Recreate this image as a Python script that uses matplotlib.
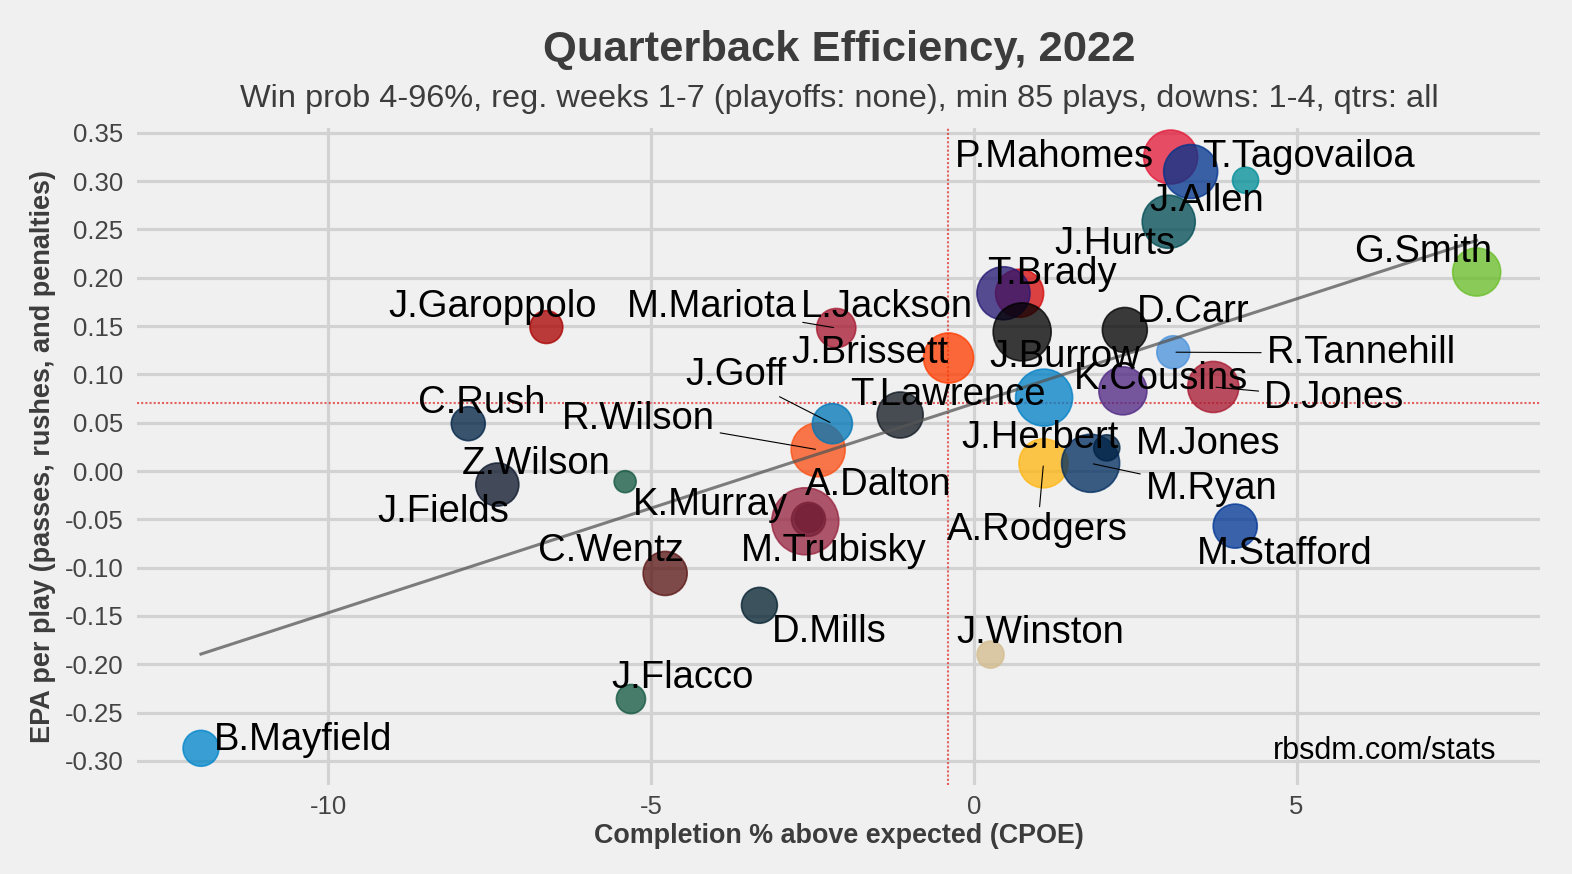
import numpy as np
import matplotlib
matplotlib.use("Agg")
import matplotlib.pyplot as plt

plt.rcParams['font.family'] = ['Liberation Sans', 'DejaVu Sans']

# QB data (CPOE, EPA/play, plays, colour)
players = ['T.Brady', 'L.Jackson', 'J.Burrow', 'P.Mahomes', 'J.Allen', 'T.Tagovailoa',
           'J.Hurts', 'G.Smith', 'D.Carr', 'R.Tannehill', 'D.Jones', 'K.Cousins',
           'J.Herbert', 'J.Brissett', 'M.Mariota', 'J.Garoppolo', 'T.Lawrence',
           'R.Wilson', 'J.Goff', 'C.Rush', 'Z.Wilson', 'J.Fields', 'M.Trubisky',
           'A.Dalton', 'K.Murray', 'C.Wentz', 'D.Mills', 'J.Flacco', 'B.Mayfield',
           'J.Winston', 'A.Rodgers', 'M.Ryan', 'M.Jones', 'M.Stafford']
cpoe = [0.71, 0.46, 0.75, 3.05, 3.36, 4.21,
        3.02, 7.79, 2.34, 3.09, 3.71, 2.31,
        1.09, -0.39, -2.13, -6.62, -1.14,
        -2.41, -2.19, -7.83, -5.40, -7.38, -2.56,
        -2.55, -2.61, -4.78, -3.32, -5.31, -11.97,
        0.26, 1.08, 1.81, 2.06, 4.05]
epa = [0.184, 0.184, 0.144, 0.325, 0.310, 0.301,
       0.258, 0.206, 0.146, 0.123, 0.087, 0.083,
       0.076, 0.117, 0.148, 0.149, 0.058,
       0.022, 0.049, 0.049, -0.011, -0.014, -0.050,
       -0.049, -0.052, -0.106, -0.139, -0.236, -0.287,
       -0.190, 0.008, 0.008, 0.024, -0.057]
plays = [169, 203, 243, 210, 210, 90,
         203, 169, 151, 102, 189, 169,
         234, 182, 123, 102, 157,
         210, 127, 105, 88, 141, 105,
         92, 330, 146, 111, 94, 111,
         91, 175, 243, 90, 146]
colors = ['#D50A0A', '#241773', '#000000', '#E31837', '#00338D', '#008E97',
          '#004C54', '#69BE28', '#000000', '#4B92DB', '#A71930', '#4F2683',
          '#0080C6', '#FF3C00', '#A71930', '#AA0000', '#101820',
          '#FB4F14', '#0076B6', '#002244', '#125740', '#0B162A', '#101820',
          '#101820', '#97233F', '#5A1414', '#03202F', '#125740', '#0085CA',
          '#D3BC8D', '#FFB612', '#002C5F', '#002244', '#003594']

avg_epa = 0.0704
avg_cpoe = -0.40

yticks = [-0.30, -0.25, -0.20, -0.15, -0.10, -0.05, 0.00,
          0.05, 0.10, 0.15, 0.20, 0.25, 0.30, 0.35]
xticks = [-10, -5, 0, 5]

title = 'Quarterback Efficiency, 2022'
subtitle = 'Win prob 4-96%, reg. weeks 1-7 (playoffs: none), min 85 plays, downs: 1-4, qtrs: all'

# label placement (pixel offsets from the point), leader line flag
label_pos = {
    'P.Mahomes': (-116, 4, False), 'T.Tagovailoa': (63, 27, False),
    'J.Allen': (16, -25, False), 'J.Hurts': (-54, -18, False),
    'G.Smith': (-53, 24, False), 'T.Brady': (32, 23, False),
    'L.Jackson': (-117, -10, False), 'M.Mariota': (-124, 25, True),
    'J.Garoppolo': (-54, 24, False), 'D.Carr': (68, 22, False),
    'J.Brissett': (-79, 9, False), 'J.Burrow': (43, -21, False),
    'R.Tannehill': (188, 3, True), 'J.Goff': (-96, 53, True),
    'K.Cousins': (38, 16, False), 'D.Jones': (121, -7, True),
    'T.Lawrence': (48, 24, False), 'C.Rush': (13, 25, False),
    'R.Wilson': (-180, 35, True), 'J.Herbert': (-4, -36, False),
    'M.Jones': (101, 8, False), 'Z.Wilson': (-89, 22, False),
    'A.Dalton': (69, 37, False), 'M.Ryan': (121, -22, True),
    'J.Fields': (-54, -23, False), 'K.Murray': (-95, 20, False),
    'A.Rodgers': (-6, -63, True), 'C.Wentz': (-54, 26, False),
    'M.Trubisky': (25, -28, False), 'M.Stafford': (50, -24, False),
    'D.Mills': (70, -23, False), 'J.Winston': (50, 26, False),
    'J.Flacco': (52, 25, False), 'B.Mayfield': (102, 12, False),
}

bg = '#f0f0f0'
fig = plt.figure(figsize=(15.72, 8.74), dpi=100, facecolor=bg)
ax = fig.add_axes([0.0872, 0.1018, 0.8924, 0.7517], facecolor=bg)

# bubble radius (px) grows with sqrt of plays, like ggplot's scale_size
p = np.array(plays, dtype=float)
r_px = 11 + 22.5 * np.sqrt((p - p.min()) / (p.max() - p.min()))
sizes = (2 * r_px * 0.72) ** 2

ax.scatter(cpoe, epa, s=sizes, c=colors, alpha=0.76, edgecolors=colors,
           linewidths=1.2, zorder=3)

# fitted line over the range of the data
slope, icpt = np.polyfit(cpoe, epa, 1)
xs = np.array([min(cpoe), max(cpoe)])
ax.plot(xs, slope * xs + icpt, color='#555555', alpha=0.75, lw=2.2, zorder=4)

ax.axhline(avg_epa, color='#e03030', alpha=0.75, lw=1.5, ls=(0, (1, 1)), zorder=2)
ax.axvline(avg_cpoe, color='#e03030', alpha=0.75, lw=1.5, ls=(0, (1, 1)), zorder=2)

for name, x, y in zip(players, cpoe, epa):
    dx, dy, leader = label_pos[name]
    kw = {}
    if leader:
        kw['arrowprops'] = dict(arrowstyle='-', color='black', lw=0.8,
                                shrinkA=2, shrinkB=2)
    ax.annotate(name, (x, y), xytext=(dx, dy - 4), textcoords='offset pixels',
                ha='center', va='center', fontsize=27.5, color='black',
                zorder=5, **kw)

ax.set_xlim(-12.96, 8.77)
ax.set_ylim(-0.325, 0.355)
ax.set_xticks(xticks)
ax.set_xticklabels([str(v) for v in xticks])
ax.set_yticks(yticks)
ax.set_yticklabels(['%.2f' % v for v in yticks])
ax.tick_params(length=0, labelsize=18.5, labelcolor='#444444')
ax.tick_params(axis='y', pad=10)
ax.tick_params(axis='x', pad=7)
ax.grid(True, color='#d2d2d2', lw=2.3, zorder=0)
ax.set_axisbelow(True)
for s in ax.spines.values():
    s.set_visible(False)

ax.set_xlabel('Completion % above expected (CPOE)', fontsize=19.4, fontweight='bold',
              color='#3c3c3c', labelpad=3)
ax.set_ylabel('EPA per play (passes, rushes, and penalties)', fontsize=19.5,
              fontweight='bold', color='#3c3c3c', labelpad=6)

ax.text(0.969, 0.052, 'rbsdm.com/stats', transform=ax.transAxes, ha='right',
        va='center', fontsize=22, color='black', zorder=6)

fig.text(0.534, 0.943, title, ha='center', va='center', fontsize=31.3,
         fontweight='bold', color='#3c3c3c')
fig.text(0.534, 0.887, subtitle, ha='center', va='center', fontsize=23.4,
         color='#3c3c3c')

fig.savefig('out.png', dpi=100, facecolor=bg)
